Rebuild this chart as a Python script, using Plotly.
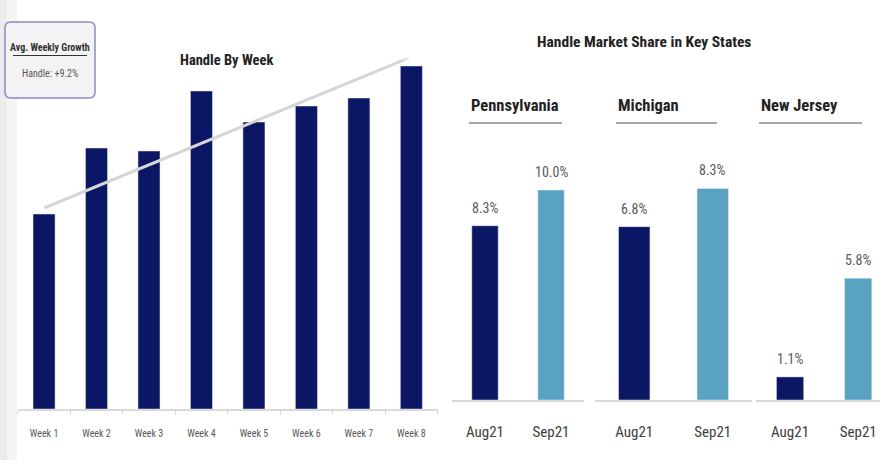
import plotly.graph_objects as go

# ---------------- data ----------------
weeks = ["Week 1", "Week 2", "Week 3", "Week 4", "Week 5", "Week 6", "Week 7", "Week 8"]
handle = [195, 261, 258, 318, 287, 303, 311, 343]          # relative weekly handle
trend_weeks = ["Week 1", "Week 8"]
trend_vals = [201, 352]

months = ["Aug21", "Sep21"]
pa_share = [8.3, 10.0]
mi_share = [6.8, 8.3]
nj_share = [1.1, 5.8]
states = ["Pennsylvania", "Michigan", "New Jersey"]
growth_label = "Handle: +9.2%"

NAVY = "#0b1664"
LIGHT = "#5aa2c1"
FONT = "Roboto Condensed, Open Sans Condensed, DejaVu Sans Condensed, sans-serif"
W, H = 888, 474

def px(x):
    return x / W

def py(y):
    return 1 - y / H

fig = go.Figure()

# left chart
fig.add_trace(go.Bar(x=weeks, y=handle, marker_color=NAVY, width=0.42,
                     xaxis="x", yaxis="y", showlegend=False))
fig.add_trace(go.Scatter(x=trend_weeks, y=trend_vals, mode="lines+markers",
                         line=dict(color="#d6d6d6", width=3),
                         marker=dict(symbol=["circle", "arrow"], size=[0, 8], angleref="previous",
                                     color="#d6d6d6"),
                         xaxis="x", yaxis="y", showlegend=False))

# right charts
panels = [(pa_share, "x2", "y2"), (mi_share, "x3", "y3"), (nj_share, "x4", "y4")]
for vals, xa, ya in panels:
    fig.add_trace(go.Bar(x=months, y=vals, marker_color=[NAVY, LIGHT], width=0.4,
                         xaxis=xa, yaxis=ya, showlegend=False))

annotations = []
for vals, xa, ya in panels:
    for m, v in zip(months, vals):
        annotations.append(dict(x=m, y=v, xref=xa, yref=ya, text=f"{v:.1f}%",
                                showarrow=False, xanchor="center", yanchor="bottom", yshift=8,
                                font=dict(family=FONT, size=14, color="#595959")))

def note(x, y, text, size, color="#222222", xanchor="center"):
    return dict(x=px(x), y=py(y), xref="paper", yref="paper", text=text, showarrow=False,
                xanchor=xanchor, yanchor="middle", font=dict(family=FONT, size=size, color=color))

annotations += [
    note(226, 60, "<b>Handle By Week</b>", 14.5),
    note(644, 42, "<b>Handle Market Share in Key States</b>", 15.5),
    note(50, 48, "<b>Avg. Weekly Growth</b>", 10, "#333333"),
    note(50, 74, growth_label, 10, "#555555"),
]
state_x = [469, 616, 759]
state_end = [562, 717, 862]
for s, x0 in zip(states, state_x):
    annotations.append(note(x0, 106, f"<b>{s}</b>", 16.5, xanchor="left"))

shapes = [
    # left shadow strip
    dict(type="rect", xref="paper", yref="paper", x0=0, x1=px(7), y0=py(460), y1=1,
         fillcolor="#ebebeb", line=dict(width=0), layer="below"),
    dict(type="rect", xref="paper", yref="paper", x0=px(7), x1=px(17), y0=py(460), y1=1,
         fillcolor="#f5f5f5", line=dict(width=0), layer="below"),
    # rounded box
    dict(type="path", xref="paper", yref="paper",
         path=f"M {px(11)},{py(22)} L {px(89)},{py(22)} Q {px(95)},{py(22)} {px(95)},{py(28)} "
              f"L {px(95)},{py(92)} Q {px(95)},{py(98)} {px(89)},{py(98)} "
              f"L {px(11)},{py(98)} Q {px(5)},{py(98)} {px(5)},{py(92)} "
              f"L {px(5)},{py(28)} Q {px(5)},{py(22)} {px(11)},{py(22)} Z",
         fillcolor="#f3f3f5", line=dict(color="#8f88c6", width=1.5)),
    # underline in box
    dict(type="line", xref="paper", yref="paper", x0=px(13), x1=px(87), y0=py(55.5), y1=py(55.5),
         line=dict(color="#333333", width=1)),
]
for x0, x1 in zip(state_x, state_end):
    shapes.append(dict(type="line", xref="paper", yref="paper", x0=px(x0), x1=px(x1),
                       y0=py(123), y1=py(123), line=dict(color="#a6a6a6", width=2)))

left_x = dict(domain=[px(17.8), px(437.6)], type="category", range=[-0.5, 7.5],
              showline=True, linecolor="#d9d9d9", linewidth=1.5, ticks="outside",
              tickson="boundaries", ticklen=4, tickcolor="#d9d9d9", showgrid=False,
              tickfont=dict(family=FONT, size=10, color="#595959"), ticklabelstandoff=14,
              fixedrange=True)
right_x_common = dict(type="category", showline=True, linecolor="#d9d9d9", linewidth=1.5,
                      ticks="", showgrid=False, ticklabelstandoff=17,
                      tickfont=dict(family=FONT, size=15, color="#404040"))
y_bottom_r = py(400)
y_top_r = py(130)

fig.update_layout(
    width=W, height=H, margin=dict(l=0, r=0, t=0, b=0),
    paper_bgcolor="white", plot_bgcolor="rgba(0,0,0,0)",
    xaxis=left_x,
    yaxis=dict(domain=[py(409), py(47.4)], range=[0, 361.6], visible=False),
    xaxis2=dict(domain=[px(452), px(584)], range=[-0.5, 1.5], anchor="y2", **right_x_common),
    yaxis2=dict(domain=[y_bottom_r, y_top_r], range=[0, 12.86], visible=False, anchor="x2"),
    xaxis3=dict(domain=[px(595), px(752)], range=[-0.5, 1.5], anchor="y3", **right_x_common),
    yaxis3=dict(domain=[y_bottom_r, y_top_r], range=[0, 10.59], visible=False, anchor="x3"),
    xaxis4=dict(domain=[px(756), px(880)], range=[-0.5, 1.32], anchor="y4", **right_x_common),
    yaxis4=dict(domain=[y_bottom_r, y_top_r], range=[0, 12.86], visible=False, anchor="x4"),
    annotations=annotations, shapes=shapes,
)

fig.write_html("out.html", config={"displayModeBar": False},
               post_script="document.body.style.margin='0';")
